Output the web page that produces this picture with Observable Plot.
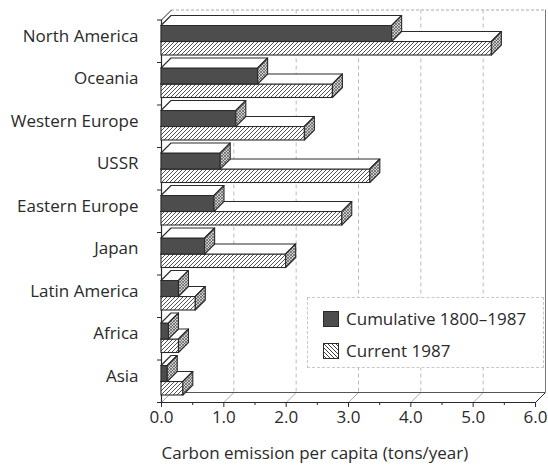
<!DOCTYPE html>
<html><head><meta charset="utf-8">
<script src="https://cdn.jsdelivr.net/npm/d3@7"></script>
<script src="https://cdn.jsdelivr.net/npm/@observablehq/plot@0.6"></script>
<style>
body{margin:0;background:#fff;}
#wrap{position:relative;width:548px;height:474px;font-family:"Open Sans",sans-serif;color:#2a2a2a;}
#legend{position:absolute;left:307px;top:297px;width:237px;height:71px;background:#fff;border:1px dashed #c8c8c8;box-sizing:border-box;}
#legend .sw{position:absolute;left:15px;width:16px;height:16px;}
#legend .lt{position:absolute;left:38px;font-size:17px;line-height:16px;white-space:nowrap;}
</style></head><body>
<svg width="0" height="0" style="position:absolute">
<defs>
<pattern id="hatch" width="4" height="4" patternUnits="userSpaceOnUse">
<rect width="4" height="4" fill="#fff"/>
<path d="M-1,1 l2,-2 M0,4 l4,-4 M3,5 l2,-2" stroke="#333" stroke-width="0.85"/>
</pattern>
<pattern id="hatchLegend" width="4" height="4" patternUnits="userSpaceOnUse">
<rect width="4" height="4" fill="#fff"/>
<path d="M-1,-1 l2,2 M0,0 l4,4 M3,3 l2,2" stroke="#333" stroke-width="0.9"/>
</pattern>
<pattern id="side" width="3" height="3" patternUnits="userSpaceOnUse">
<rect width="3" height="3" fill="#cfcfcf"/>
<path d="M-1,1 l2,-2 M0,3 l3,-3 M2,4 l2,-2 M-1,2 l2,2 M0,0 l3,3" stroke="#444" stroke-width="0.6"/>
</pattern>
</defs>
</svg>
<div id="wrap"></div>
<script>
const regions = ["North America","Oceania","Western Europe","USSR","Eastern Europe","Japan","Latin America","Africa","Asia"];
const cumulative = [3.7, 1.55, 1.2, 0.95, 0.85, 0.7, 0.28, 0.12, 0.1];
const current = [5.3, 2.75, 2.3, 3.35, 2.9, 2.0, 0.55, 0.28, 0.35];
const xTicks = [0, 1, 2, 3, 4, 5, 6];
const xMinorTicks = [0.5, 1.5, 2.5, 3.5, 4.5, 5.5];
const seriesNames = ["Cumulative 1800–1987", "Current 1987"];
const xLabel = "Carbon emission per capita (tons/year)";

const W = 548, H = 474, ML = 161, MR = 13, MT = 19.5, MB = 72;
const pxX = (W - ML - MR) / 6;
const pxY = (H - MT - MB) / regions.length;
const dxu = 10 / pxX, dyu = 10 / pxY;
const N = regions.length;
const FONT = 17;

function series(values, off1, off2, key) {
  return values.map((v, i) => ({id: key + i, v, y1: i + off1, y2: i + off2}));
}
const curBars = series(current, 22 / 42.5, 35.5 / 42.5, "cur");
const cumBars = series(cumulative, 6 / 42.5, 22 / 42.5, "cum");

function topFaces(bars) {
  return bars.flatMap(b => [
    {id: b.id, y: b.y1, x1: 0, x2: b.v},
    {id: b.id, y: b.y1 - dyu, x1: dxu, x2: b.v + dxu}
  ]);
}
function sideFaces(bars) {
  return bars.flatMap(b => [
    {id: b.id, x: b.v, y1: b.y2, y2: b.y1},
    {id: b.id, x: b.v + dxu, y1: b.y2 - dyu, y2: b.y1 - dyu}
  ]);
}
const ink = "#2a2a2a";
function barMarks(bars, frontFill) {
  return [
    Plot.rect(bars, {x1: () => 0, x2: "v", y1: "y1", y2: "y2", fill: frontFill, stroke: ink, strokeWidth: 1.1}),
    Plot.areaX(topFaces(bars), {y: "y", x1: "x1", x2: "x2", z: "id", fill: "white", stroke: ink, strokeWidth: 1.1, curve: "linear"}),
    Plot.areaY(sideFaces(bars), {x: "x", y1: "y1", y2: "y2", z: "id", fill: "url(#side)", stroke: ink, strokeWidth: 1.1, curve: "linear"})
  ];
}

const chart = Plot.plot({
  width: W, height: H,
  marginLeft: ML, marginRight: MR, marginTop: MT, marginBottom: MB,
  style: {fontFamily: "'Open Sans', sans-serif", color: ink, background: "white", overflow: "visible"},
  x: {domain: [0, 6], axis: null},
  y: {domain: [0, N], reverse: true, axis: null},
  marks: [
    // back wall
    Plot.ruleY([-dyu], {x1: dxu, x2: 6 + dxu, stroke: "#aaa", strokeDasharray: "3,2"}),
    Plot.ruleX(xTicks.slice(1, -1), {x: d => d + dxu, y1: -dyu, y2: N - dyu, stroke: "#bbb", strokeDasharray: "4,3"}),
    Plot.ruleX([6], {x: d => d + dxu, y1: -dyu, y2: N - dyu, stroke: "#777"}),
    // floor
    Plot.link(xTicks.slice(0, -1), {x1: d => d, y1: N, x2: d => d + dxu, y2: N - dyu, stroke: "#aaa"}),
    Plot.link([6], {x1: d => d, y1: N, x2: d => d + dxu, y2: N - dyu, stroke: ink}),
    Plot.ruleY([N - dyu], {x1: dxu, x2: 6 + dxu, stroke: "#555"}),
    Plot.ruleY([N], {x1: 0, x2: 6, stroke: ink, strokeWidth: 1.2}),
    // left wall edge
    Plot.link([0], {x1: 0, y1: 0, x2: dxu, y2: -dyu, stroke: ink}),
    Plot.ruleX([0], {y1: 0, y2: N, stroke: ink, strokeWidth: 1.2}),
    // y ticks
    Plot.ruleY(d3.range(N + 1), {x1: -4 / pxX, x2: 0, stroke: ink}),
    // x ticks
    Plot.ruleX(xTicks, {y1: N, y2: N + 5 / pxY, stroke: ink}),
    Plot.ruleX(xMinorTicks, {y1: N, y2: N + 3 / pxY, stroke: ink}),
    // bars
    ...barMarks(curBars, "url(#hatch)"),
    ...barMarks(cumBars, "#4d4d4d"),
    // labels
    Plot.text(regions, {x: () => 0, y: (d, i) => i + 0.5, text: d => d, textAnchor: "end", dx: -23, dy: -5, fontSize: FONT, fill: ink}),
    Plot.text(xTicks, {x: d => d, y: () => N, text: d => d3.format(".1f")(d), dy: 15, fontSize: FONT, fill: ink}),
    Plot.text([xLabel], {x: () => 0, y: () => N, text: d => d, textAnchor: "start", dy: 51, fontSize: FONT, fill: ink})
  ]
});
const wrap = document.getElementById("wrap");
wrap.appendChild(chart);

const legend = document.createElement("div");
legend.id = "legend";
const fills = ["#4d4d4d", "url(#hatchLegend)"];
seriesNames.forEach((name, k) => {
  const top = 13 + k * 32;
  const sw = document.createElementNS("http://www.w3.org/2000/svg", "svg");
  sw.setAttribute("class", "sw");
  sw.setAttribute("width", 16); sw.setAttribute("height", 16);
  sw.style.top = top + "px";
  sw.innerHTML = `<rect x="0.5" y="0.5" width="15" height="15" fill="${fills[k]}" stroke="${ink}"/>`;
  legend.appendChild(sw);
  const t = document.createElement("div");
  t.className = "lt"; t.style.top = top + "px"; t.textContent = name;
  legend.appendChild(t);
});
wrap.appendChild(legend);
</script>
</body></html>
